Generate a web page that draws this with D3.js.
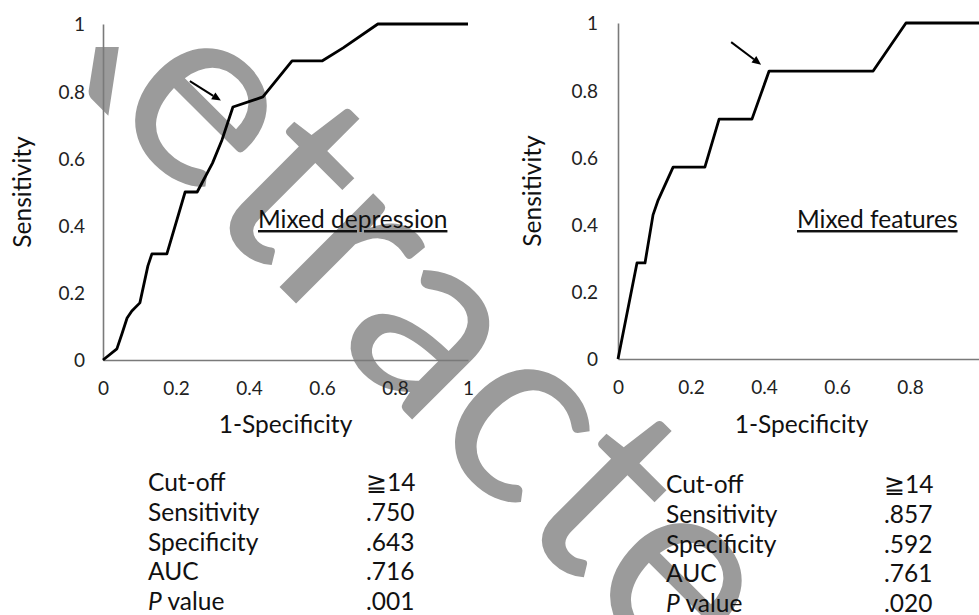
<!DOCTYPE html>
<html><head><meta charset="utf-8">
<script src="https://cdn.jsdelivr.net/npm/d3@7"></script>
<style>
html,body{margin:0;padding:0;background:#fff;}
svg{display:block;}
text{font-family:Lato,"Open Sans",sans-serif;fill:#111;}
</style></head>
<body>
<svg id="c" width="979" height="615"></svg>
<script>
// ---- data ----
const tickValues = [0, 0.2, 0.4, 0.6, 0.8, 1];
const tickLabels = ["0", "0.2", "0.4", "0.6", "0.8", "1"];

const depressionFPR = [0, 0.038, 0.052, 0.066, 0.079, 0.101, 0.123, 0.134, 0.175, 0.225, 0.258, 0.30, 0.326, 0.356, 0.438, 0.518, 0.60, 0.658, 0.753, 1.0];
const depressionTPR = [0, 0.033, 0.078, 0.125, 0.146, 0.170, 0.280, 0.316, 0.316, 0.50, 0.50, 0.586, 0.655, 0.753, 0.783, 0.890, 0.890, 0.929, 1.0, 1.0];

const featuresFPR = [0, 0.052, 0.074, 0.096, 0.110, 0.151, 0.238, 0.277, 0.367, 0.414, 0.699, 0.789, 1.0];
const featuresTPR = [0, 0.286, 0.286, 0.429, 0.473, 0.571, 0.571, 0.714, 0.714, 0.857, 0.857, 1.0, 1.0];

const panelTitles = ["Mixed depression", "Mixed features"];
const tableLabels = ["Cut-off", "Sensitivity", "Specificity", "AUC", "P value"];
const depressionStats = ["\u226714", ".750", ".643", ".716", ".001"];
const featuresStats = ["\u226714", ".857", ".592", ".761", ".020"];
// arrows (data units): [x1,y1,x2,y2]
const depressionArrow = [0.238, 0.83, 0.323, 0.772];
const featuresArrow = [0.310, 0.943, 0.392, 0.876];
const watermarkText = "Retracted";

const svg = d3.select("#c");

// ---- watermark ----
svg.append("defs").append("clipPath").attr("id", "wmclip")
  .append("rect").attr("x", 0).attr("y", 47).attr("width", 979).attr("height", 568);
(function(){
  const ang = 45, rad = ang*Math.PI/180;
  const wm = svg.append("g").attr("clip-path", "url(#wmclip)").append("text").text(watermarkText)
    .attr("font-size", 100).style("fill", "#9b9b9b")
    .attr("font-family", "Lato, sans-serif");
  const n = wm.node();
  const mid = i => (n.getStartPositionOfChar(i).x + n.getEndPositionOfChar(i).x)/2;
  const d = mid(5) - mid(1);
  const target = Math.hypot(518-198, 426-113);
  const F = 100*target/d;
  wm.attr("font-size", F);
  const lx = mid(1), ly = -0.25*F;
  const tx = 198 - (lx*Math.cos(rad) - ly*Math.sin(rad));
  const ty = 113 - (lx*Math.sin(rad) + ly*Math.cos(rad));
  wm.attr("transform", `translate(${tx},${ty}) rotate(${ang})`);
})();

function panel(cfg){
  const x = d3.scaleLinear().domain([0,1]).range([cfg.x0, cfg.x1]);
  const y = d3.scaleLinear().domain([0,1]).range([cfg.y0, cfg.y1]);
  const g = svg.append("g");

  const xa = g.append("g").attr("transform", `translate(0,${cfg.y0})`)
    .call(d3.axisBottom(x).tickValues(tickValues).tickFormat((d,i)=>tickLabels[i]).tickSize(0).tickPadding(22));
  const ya = g.append("g").attr("transform", `translate(${cfg.x0},0)`)
    .call(d3.axisLeft(y).tickValues(tickValues).tickFormat((d,i)=>tickLabels[i]).tickSize(0).tickPadding(cfg.ypad));
  [xa, ya].forEach(a => {
    a.select(".domain").attr("stroke", "#7a7a7a").attr("stroke-width", 1.6);
    a.selectAll("text").attr("font-size", 19).attr("font-family", "Lato, sans-serif").style("fill", "#222");
  });
  ya.selectAll("text").attr("dy", "0.36em");

  const line = d3.line().x((d,i)=>x(cfg.fpr[i])).y((d,i)=>y(cfg.tpr[i]));
  g.append("path").datum(cfg.fpr).attr("d", line)
    .attr("fill", "none").attr("stroke", "#000").attr("stroke-width", 2.8)
    .attr("stroke-linejoin", "round");

  // arrow
  const a = cfg.arrow;
  const X1 = x(a[0]), Y1 = y(a[1]), X2 = x(a[2]), Y2 = y(a[3]);
  const ang = Math.atan2(Y2-Y1, X2-X1);
  const hl = 9, hw = 4;
  const bx = X2 - hl*Math.cos(ang), by = Y2 - hl*Math.sin(ang);
  g.append("line").attr("x1", X1).attr("y1", Y1).attr("x2", bx).attr("y2", by)
    .attr("stroke", "#000").attr("stroke-width", 2);
  g.append("path").attr("d", `M${X2},${Y2}L${bx - hw*Math.sin(ang)},${by + hw*Math.cos(ang)}L${bx + hw*Math.sin(ang)},${by - hw*Math.cos(ang)}Z`)
    .attr("fill", "#000");

  // titles
  g.append("text").attr("x", (cfg.x0 + x(1))/2 + cfg.xtDx).attr("y", 433).attr("text-anchor", "middle")
    .attr("font-size", 24.5).text("1-Specificity");
  g.append("text").attr("transform", `translate(${cfg.ytX},${(cfg.y0+cfg.y1)/2}) rotate(-90)`)
    .attr("text-anchor", "middle").attr("font-size", 24.5).text("Sensitivity");
  g.append("text").attr("x", cfg.annX).attr("y", 228).attr("font-size", 24.5)
    .style("text-decoration", "underline").text(cfg.title);

  // stats table
  tableLabels.forEach((lab, i) => {
    const t = g.append("text").attr("x", cfg.tabX).attr("y", cfg.tabY + i*29.8).attr("font-size", 24.5);
    if (lab.startsWith("P ")) {
      t.append("tspan").style("font-style", "italic").text("P");
      t.append("tspan").text(" value");
    } else t.text(lab);
    g.append("text").attr("x", cfg.valX).attr("y", cfg.tabY + i*29.8).attr("font-size", 24.5).text(cfg.stats[i]);
  });
}

panel({x0:103, x1:468, y0:360, y1:24, ypad:18, fpr:depressionFPR, tpr:depressionTPR,
  arrow:depressionArrow, title:panelTitles[0], annX:258, ytX:31, xtDx:0,
  tabX:148, tabY:491, valX:366, stats:depressionStats});
panel({x0:618, x1:983, y0:359, y1:23, ypad:20, fpr:featuresFPR, tpr:featuresTPR,
  arrow:featuresArrow, title:panelTitles[1], annX:797, ytX:541, xtDx:1,
  tabX:666, tabY:493, valX:884, stats:featuresStats});
</script>
</body></html>
